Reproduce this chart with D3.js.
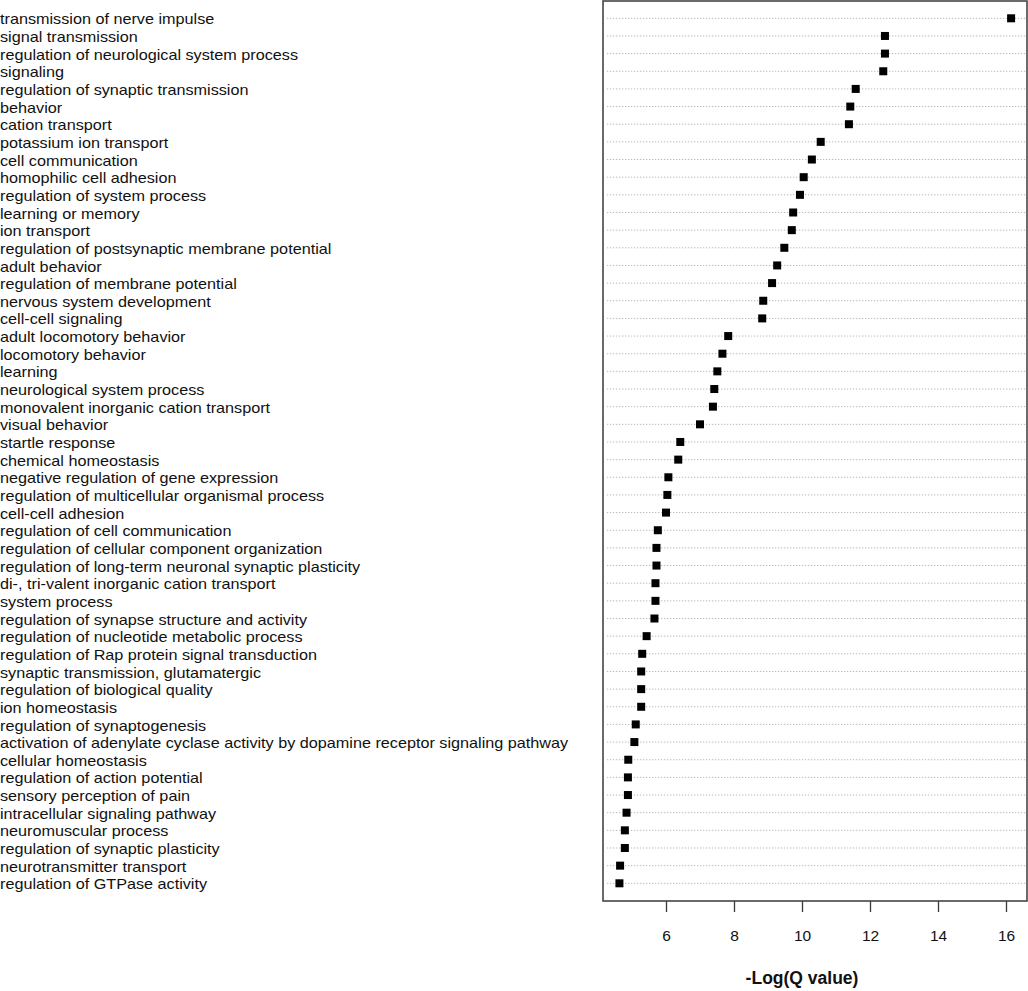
<!doctype html>
<html>
<head>
    <title>GO terms</title>
    <script src="https://d3js.org/d3.v7.min.js"></script>
    <style>
        body { margin: 0; background: #fff; }
        text { font-family: "Liberation Sans", Arial, sans-serif; }
    </style>
</head>
<body>
<div id="chart"></div>
<script>

    // data
    var terms = [
        "transmission of nerve impulse",
        "signal transmission",
        "regulation of neurological system process",
        "signaling",
        "regulation of synaptic transmission",
        "behavior",
        "cation transport",
        "potassium ion transport",
        "cell communication",
        "homophilic cell adhesion",
        "regulation of system process",
        "learning or memory",
        "ion transport",
        "regulation of postsynaptic membrane potential",
        "adult behavior",
        "regulation of membrane potential",
        "nervous system development",
        "cell-cell signaling",
        "adult locomotory behavior",
        "locomotory behavior",
        "learning",
        "neurological system process",
        "monovalent inorganic cation transport",
        "visual behavior",
        "startle response",
        "chemical homeostasis",
        "negative regulation of gene expression",
        "regulation of multicellular organismal process",
        "cell-cell adhesion",
        "regulation of cell communication",
        "regulation of cellular component organization",
        "regulation of long-term neuronal synaptic plasticity",
        "di-, tri-valent inorganic cation transport",
        "system process",
        "regulation of synapse structure and activity",
        "regulation of nucleotide metabolic process",
        "regulation of Rap protein signal transduction",
        "synaptic transmission, glutamatergic",
        "regulation of biological quality",
        "ion homeostasis",
        "regulation of synaptogenesis",
        "activation of adenylate cyclase activity by dopamine receptor signaling pathway",
        "cellular homeostasis",
        "regulation of action potential",
        "sensory perception of pain",
        "intracellular signaling pathway",
        "neuromuscular process",
        "regulation of synaptic plasticity",
        "neurotransmitter transport",
        "regulation of GTPase activity"
    ];

    var logQ = [
        16.15, 12.44, 12.44, 12.39, 11.58, 11.42, 11.38, 10.55, 10.29, 10.05,
        9.94, 9.74, 9.70, 9.48, 9.27, 9.12, 8.86, 8.83, 7.83, 7.66,
        7.51, 7.42, 7.38, 7.00, 6.42, 6.36, 6.07, 6.04, 6.00, 5.76,
        5.72, 5.72, 5.69, 5.69, 5.66, 5.43, 5.30, 5.27, 5.27, 5.27,
        5.11, 5.07, 4.89, 4.88, 4.88, 4.84, 4.79, 4.79, 4.65, 4.63
    ];

    var xTicks = [6, 8, 10, 12, 14, 16];

    // layout
    const width = 1028;
    const height = 991;
    const plotLeft = 603, plotRight = 1027, plotTop = 1, plotBottom = 901;

    var svg = d3.select("#chart")
        .append("svg")
        .attr("width", width)
        .attr("height", height);

    var x = d3.scaleLinear()
        .domain([6 - 63/34, 16 + 21/34])
        .range([plotLeft, plotRight]);

    var y = d3.scalePoint()
        .domain(terms)
        .range([18.3, 883.3]);

    // dotted guide lines
    svg.selectAll("line.guide")
        .data(terms)
        .enter()
        .append("line")
            .attr("class", "guide")
            .attr("x1", plotLeft + 4)
            .attr("x2", plotRight)
            .attr("y1", function(d){return y(d);})
            .attr("y2", function(d){return y(d);})
            .attr("stroke", "#b8b8b8")
            .attr("stroke-width", 1)
            .attr("stroke-dasharray", "1.3,1.7");

    // term labels (the source type is a little wide, so stretch it sideways)
    var labels = svg.append("g")
        .attr("transform", "scale(1.08,1)");

    labels.selectAll("text.term")
        .data(terms)
        .enter()
        .append("text")
            .attr("class", "term")
            .attr("x", 0)
            .attr("y", function(d){return y(d) + 0.7;})
            .attr("dy", "0.36em")
            .attr("font-size", "15px")
            .attr("fill", "#111")
            .text(function(d){return d;});

    // points
    svg.selectAll("rect.pt")
        .data(logQ)
        .enter()
        .append("rect")
            .attr("class", "pt")
            .attr("width", 8)
            .attr("height", 8)
            .attr("x", function(d){return x(d) - 4;})
            .attr("y", function(d, i){return y(terms[i]) - 4;})
            .attr("fill", "#000");

    // frame
    svg.append("rect")
        .attr("x", plotLeft)
        .attr("y", plotTop)
        .attr("width", plotRight - plotLeft)
        .attr("height", plotBottom - plotTop)
        .attr("fill", "none")
        .attr("stroke", "#3a3a3a")
        .attr("stroke-width", 1.5);

    // x axis
    var axis = svg.append("g")
        .attr("transform", "translate(0," + plotBottom + ")")
        .call(d3.axisBottom(x).tickValues(xTicks).tickSize(11).tickPadding(18).tickFormat(d3.format("d")));

    axis.select(".domain").remove();
    axis.selectAll(".tick line").attr("stroke", "#3a3a3a").attr("stroke-width", 1.3);
    axis.selectAll(".tick text")
        .attr("font-family", "Liberation Sans, Arial, sans-serif")
        .attr("font-size", "15.5px")
        .attr("fill", "#111");

    svg.append("text")
        .attr("x", x(10))
        .attr("y", 978)
        .attr("dy", "0.36em")
        .attr("text-anchor", "middle")
        .attr("font-size", "17.5px")
        .attr("font-weight", "bold")
        .attr("fill", "#111")
        .text("-Log(Q value)");

</script>
</body>
</html>
